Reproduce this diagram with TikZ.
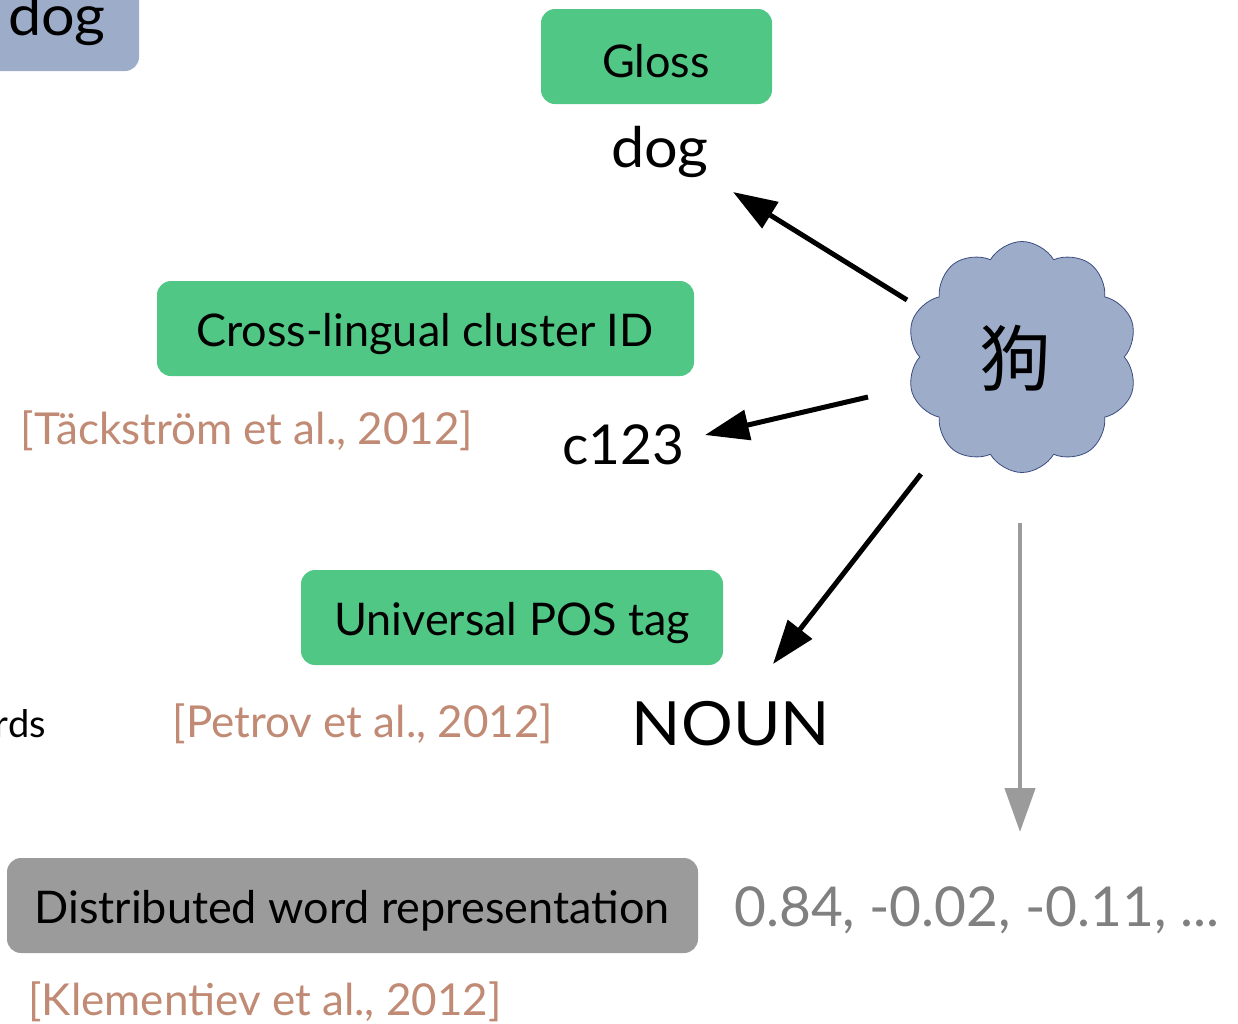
\documentclass[tikz,border=0pt]{standalone}
\usepackage{fontspec}
\setmainfont{Lato}
\newfontfamily\widefont[FakeStretch=1.06]{Lato}
\newfontfamily\cjk{Noto Sans CJK SC}
\usetikzlibrary{arrows.meta,shapes.symbols}
\definecolor{boxgreen}{RGB}{80,199,133}
\definecolor{cloudblue}{RGB}{157,173,201}
\definecolor{cloudedge}{RGB}{60,75,130}
\definecolor{boxgray}{RGB}{155,155,155}
\definecolor{citecol}{RGB}{192,138,116}
\definecolor{numgray}{RGB}{128,128,128}
\tikzset{
  x=1pt,y=-1pt,
  boxtext/.style={font=\fontsize{45}{52}\selectfont,anchor=base,inner sep=0pt},
  bigtext/.style={font=\widefont\fontsize{56}{62}\selectfont,anchor=base,inner sep=0pt},
  cite/.style={font=\fontsize{44}{50}\selectfont,text=citecol,anchor=base,inner sep=0pt},
  blackarrow/.style={line width=5pt,-{Triangle[length=44pt,width=30pt]}},
  grayarrow/.style={draw=boxgray,line width=4.5pt,-{Triangle[length=44pt,width=30pt]}}
}
\begin{document}
\begin{tikzpicture}
\useasboundingbox (0,0) rectangle (1238,1023);
\begin{scope}
\clip (0,0) rectangle (1238,1023);
% top-left partial box
\fill[cloudblue,rounded corners=14pt] (-40,-40) rectangle (139,71);
\node[bigtext] (dogtl) at (57,35) {dog};
% Gloss
\fill[boxgreen,rounded corners=14pt] (541,9) rectangle (772,104);
\node[boxtext] (gloss) at (656,77) {Gloss};
\node[bigtext] (dog) at (660,167) {dog};
% Cross-lingual
\fill[boxgreen,rounded corners=14pt] (157,281) rectangle (694,376);
\node[boxtext] (cl) at (425,346) {Cross-lingual cluster ID};
\node[cite] (tack) at (247,444) {[Täckström et al., 2012]};
\node[font=\fontsize{55}{62}\selectfont,anchor=base,inner sep=0pt] (c123) at (623,464) {c123};
% Universal POS
\fill[boxgreen,rounded corners=14pt] (301,570) rectangle (723,665);
\node[boxtext] (upos) at (512,635) {Universal POS tag};
\node[font=\fontsize{38}{44}\selectfont,anchor=base east,inner sep=0pt] (rds) at (46,737) {rds};
\node[cite] (petrov) at (363,737) {[Petrov et al., 2012]};
\node[font=\widefont\fontsize{61}{70}\selectfont,anchor=base,inner sep=0pt] (noun) at (731,745) {NOUN};
% Distributed
\fill[boxgray,rounded corners=14pt] (7,858) rectangle (698,953);
\node[boxtext] (dist) at (352,923) {Distributed word representation};
\node[font=\fontsize{55}{62}\selectfont,text=numgray,anchor=base,inner sep=0pt] (vec) at (977,926) {0.84, -0.02, -0.11, ...};
\node[cite] (klem) at (265,1015) {[Klementiev et al., 2012]};
% cloud
\node[cloud,cloud puffs=10,cloud puff arc=120,aspect=1,draw=cloudedge,line width=0.8pt,fill=cloudblue,minimum width=231pt,minimum height=231pt,inner sep=0pt] (cloud) at (1022,357) {};
\node[font=\cjk\fontsize{72}{80}\selectfont,inner sep=0pt] (gou) at (1015,358) {狗};
% arrows
\coordinate (s1) at (907,300); \coordinate (e1) at (733,192);
\coordinate (s2) at (868,397); \coordinate (e2) at (705,435);
\coordinate (s3) at (921,474); \coordinate (e3) at (773,664);
\coordinate (s4) at (1020,523); \coordinate (e4) at (1020,832);
\draw[blackarrow] (s1) -- (e1);
\draw[blackarrow] (s2) -- (e2);
\draw[blackarrow] (s3) -- (e3);
\draw[grayarrow] (s4) -- (e4);
\end{scope}
\end{tikzpicture}
\end{document}
